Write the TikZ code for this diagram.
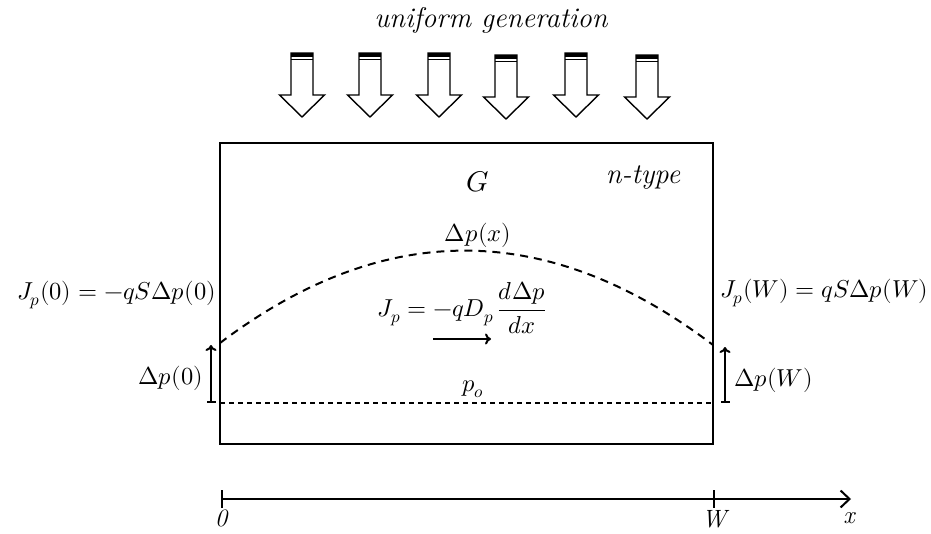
\documentclass[tikz,border=0pt]{standalone}
\usepackage{unicode-math}
\setmathfont{Latin Modern Math}
\usetikzlibrary{arrows.meta}
\tikzset{
  lbl/.style={inner sep=0pt, font=\fontsize{24.5}{29}\selectfont},
  ilbl/.style={inner sep=0pt, font=\fontsize{28.5}{33}\selectfont\itshape},
  axlbl/.style={inner sep=0pt, font=\fontsize{25}{29}\selectfont\itshape},
  genarrow/.style={draw, line width=1.4pt, fill=white, line join=miter},
  thick line/.style={line width=2pt},
  curvedash/.style={line width=2pt, dash pattern=on 8pt off 6pt},
  basedash/.style={line width=1.4pt, dash pattern=on 5pt off 4pt},
}
\begin{document}
\begin{tikzpicture}[x=1pt,y=-1pt]
\useasboundingbox (0,0) rectangle (931,534);
% title
\node[ilbl] (title) at (491,20) {uniform generation};
% generation arrows
\foreach \cx/\dy in {302/0,370/0,439/0,506/2,576/0,647/2}{
  \begin{scope}[yshift=-\dy pt]
  \draw[genarrow] (\cx-11,53) -- (\cx+11,53) -- (\cx+11,95) -- (\cx+22.5,95)
     -- (\cx,117) -- (\cx-22.5,95) -- (\cx-11,95) -- cycle;
  \fill (\cx-11,53) rectangle (\cx+11,57);
  \draw[line width=1pt] (\cx-11,60) -- (\cx+11,60);
  \end{scope}
}
% sample box
\node[draw, thick line, minimum width=493pt, minimum height=301pt, inner sep=0pt] (box) at (466.5,293.5) {};
\node[ilbl] (G) at (478,182) {$G$};
\node[ilbl] (ntype) at (643,178) {n-type};
% excess carrier profile
\coordinate (c0) at (220,343);
\coordinate (cW) at (713,345);
\draw[curvedash] (c0) .. controls (384,219) and (548,220) .. (cW);
\node[lbl] (dpx) at (478,235) {$\Delta p(x)$};
% equilibrium level
\coordinate (b0) at (220,403);
\coordinate (bW) at (713,403);
\draw[basedash] (b0) -- (bW);
\node[lbl] (po) at (473,389) {$p_o$};
% boundary currents
\node[lbl, anchor=east] (J0) at (216,295) {$J_p(0) = -qS\Delta p(0)$};
\node[lbl, anchor=west] (JW) at (720,293) {$J_p(W) = qS\Delta p(W)$};
% excess at boundaries
\coordinate (a0b) at (211,403);
\coordinate (a0t) at (211,345);
\draw[thick line, {Bar[width=9pt]}-{To[length=6pt,width=11pt]}] (a0b) -- (a0t);
\node[lbl, anchor=east] (dp0) at (203,378) {$\Delta p(0)$};
\coordinate (aWb) at (725,403);
\coordinate (aWt) at (725,347);
\draw[thick line, {Bar[width=9pt]}-{To[length=6pt,width=11pt]}] (aWb) -- (aWt);
\node[lbl, anchor=west] (dpW) at (734,380) {$\Delta p(W)$};
% diffusion current
\node[lbl] (Jp) at (462,308) {$J_p = -qD_p\,\dfrac{d\Delta p}{dx}$};
\coordinate (ja) at (433,339);
\coordinate (jb) at (491,339);
\draw[thick line, -{To[length=6pt,width=11pt]}] (ja) -- (jb);
% axis
\coordinate (o) at (221,499);
\coordinate (wt) at (714,499);
\coordinate (xend) at (851,499);
\draw[thick line, {Bar[width=18pt]}-{Straight Barb[length=9pt,width=17pt]}] (o) -- (xend);
\draw[line width=1.4pt] ([yshift=9pt]wt) -- ([yshift=-9pt]wt);
\node[axlbl, anchor=north] (l0) at (221,510) {0};
\node[axlbl, anchor=north] (lW) at (714,510) {W};
\node[axlbl] (lx) at (849,518) {x};
\end{tikzpicture}
\end{document}
